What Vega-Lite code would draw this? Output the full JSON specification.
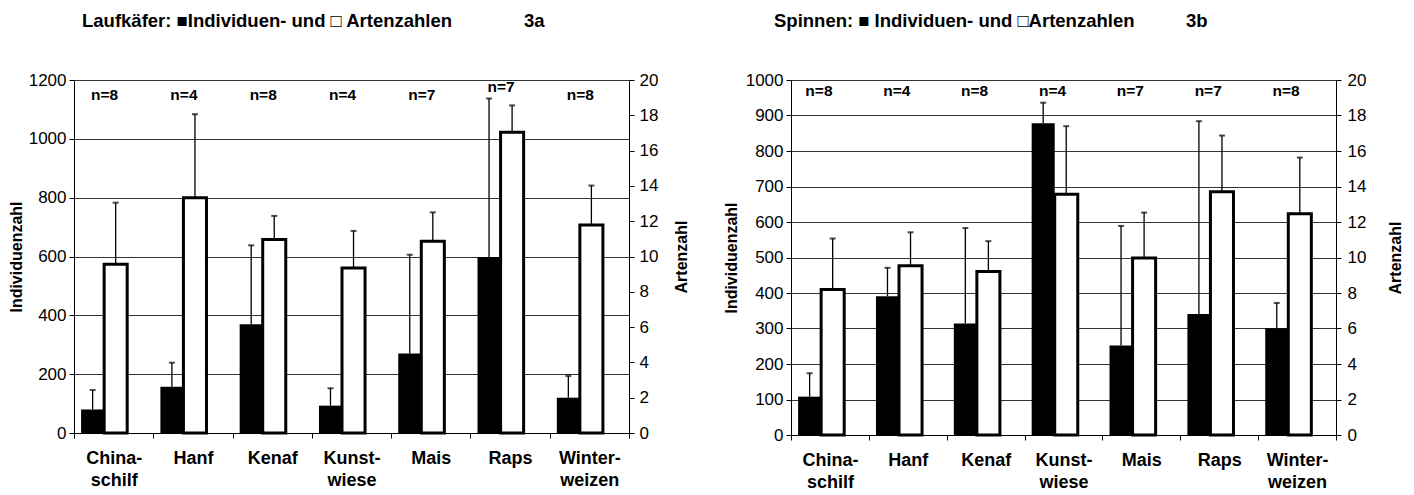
{
  "$schema": "https://vega.github.io/schema/vega-lite/v6.json",
  "background": "white",
  "padding": {"left": 8, "right": 4, "top": 11, "bottom": 5},
  "config": {
    "font": "Liberation Sans",
    "view": {"stroke": null},
    "axis": {"labelColor": "black", "titleColor": "black", "domainColor": "black", "tickColor": "black", "labelFontSize": 17, "titleFontSize": 16, "titleFontWeight": "bold", "tickSize": 5}
  },
  "data": {"values": [
    {"panel": "3a", "kat": "China- schilf", "ind": 80, "indHi": 146, "art": 9.56, "artHi": 13.05, "n": "n=8"},
    {"panel": "3a", "kat": "Hanf", "ind": 157, "indHi": 239, "art": 13.33, "artHi": 18.06, "n": "n=4"},
    {"panel": "3a", "kat": "Kenaf", "ind": 370, "indHi": 638, "art": 10.97, "artHi": 12.3, "n": "n=8"},
    {"panel": "3a", "kat": "Kunst- wiese", "ind": 93, "indHi": 152, "art": 9.35, "artHi": 11.45, "n": "n=4"},
    {"panel": "3a", "kat": "Mais", "ind": 270, "indHi": 606, "art": 10.87, "artHi": 12.5, "n": "n=7"},
    {"panel": "3a", "kat": "Raps", "ind": 598, "indHi": 1137, "art": 17.04, "artHi": 18.56, "n": "n=7"},
    {"panel": "3a", "kat": "Winter- weizen", "ind": 120, "indHi": 194, "art": 11.78, "artHi": 14.02, "n": "n=8"},
    {"panel": "3b", "kat": "China- schilf", "ind": 108, "indHi": 174, "art": 8.2, "artHi": 11.07, "n": "n=8"},
    {"panel": "3b", "kat": "Hanf", "ind": 391, "indHi": 471, "art": 9.53, "artHi": 11.42, "n": "n=4"},
    {"panel": "3b", "kat": "Kenaf", "ind": 314, "indHi": 583, "art": 9.21, "artHi": 10.92, "n": "n=8"},
    {"panel": "3b", "kat": "Kunst- wiese", "ind": 878, "indHi": 936, "art": 13.56, "artHi": 17.4, "n": "n=4"},
    {"panel": "3b", "kat": "Mais", "ind": 252, "indHi": 589, "art": 9.97, "artHi": 12.53, "n": "n=7"},
    {"panel": "3b", "kat": "Raps", "ind": 341, "indHi": 884, "art": 13.7, "artHi": 16.87, "n": "n=7"},
    {"panel": "3b", "kat": "Winter- weizen", "ind": 301, "indHi": 372, "art": 12.47, "artHi": 15.63, "n": "n=8"}
  ]},
  "spacing": 33,
  "hconcat": [
    {
      "width": 555, "height": 353,
      "transform": [{"filter": "datum.panel == '3a'"}],
      "title": {"text": "Laufkäfer: ■Individuen- und □ Artenzahlen\u00a0\u00a0\u00a0\u00a0\u00a0\u00a0\u00a0\u00a0\u00a0\u00a0\u00a0\u00a0\u00a0\u00a03a", "frame": "group", "anchor": "start", "dx": 8, "fontSize": 18.5, "fontWeight": "bold", "color": "black", "offset": 41},
      "encoding": {
        "x": {"field": "kat", "type": "nominal", "sort": null, "scale": {"paddingInner": 0, "paddingOuter": 0},
          "axis": {"title": null, "labelAngle": 0, "tickBand": "extent", "labelFontWeight": "bold", "labelFontSize": 18, "labelPadding": 11, "labelLineHeight": 22, "labelBaseline": "top", "labelExpr": "split(datum.label, ' ')"}}
      },
      "layer": [
        {
          "encoding": {"y": {"field": "ind", "type": "quantitative", "scale": {"domain": [0, 1200]}, "axis": {"orient": "left", "title": "Individuenzahl", "format": "d", "values": [0, 200, 400, 600, 800, 1000, 1200], "grid": true, "gridColor": "#333", "gridWidth": 1, "labelPadding": 3, "titlePadding": 4}}},
          "layer": [
            {"mark": {"type": "bar", "color": "black"}, "encoding": {"xOffset": {"datum": "I", "scale": {"domain": ["I", "A", "X"], "paddingInner": 0, "paddingOuter": 0.22, "align": 0.7}}}},
            {"mark": {"type": "rule", "color": "black", "strokeWidth": 1.3}, "encoding": {"xOffset": {"datum": "I"}, "y2": {"field": "indHi"}}},
            {"mark": {"type": "tick", "color": "black", "orient": "horizontal", "size": 6, "thickness": 2}, "encoding": {"xOffset": {"datum": "I"}, "y": {"field": "indHi", "type": "quantitative"}}},
            {"transform": [{"filter": "datum.kat != 'Raps'"}], "mark": {"type": "text", "fontWeight": "bold", "fontSize": 15.5, "dx": -9, "color": "black"}, "encoding": {"y": {"datum": 1149}, "text": {"field": "n"}}},
            {"transform": [{"filter": "datum.kat == 'Raps'"}], "mark": {"type": "text", "fontWeight": "bold", "fontSize": 15.5, "dx": -9, "color": "black"}, "encoding": {"y": {"datum": 1177}, "text": {"field": "n"}}}
          ]
        },
        {
          "encoding": {"y": {"field": "art", "type": "quantitative", "scale": {"domain": [0, 20]}, "axis": {"orient": "right", "title": "Artenzahl", "titleAngle": 270, "values": [0, 2, 4, 6, 8, 10, 12, 14, 16, 18, 20], "grid": false, "labelPadding": 5, "titlePadding": 32}}},
          "layer": [
            {"mark": {"type": "bar", "fill": "white", "stroke": "black", "strokeWidth": 3}, "encoding": {"xOffset": {"datum": "A"}}},
            {"mark": {"type": "rule", "color": "black", "strokeWidth": 1.3}, "encoding": {"xOffset": {"datum": "A"}, "y2": {"field": "artHi"}}},
            {"mark": {"type": "tick", "color": "black", "orient": "horizontal", "size": 6, "thickness": 2}, "encoding": {"xOffset": {"datum": "A"}, "y": {"field": "artHi", "type": "quantitative"}}}
          ]
        }
      ],
      "resolve": {"scale": {"y": "independent"}}
    },
    {
      "width": 545, "height": 355,
      "transform": [{"filter": "datum.panel == '3b'"}],
      "title": {"text": "Spinnen: ■ Individuen- und □Artenzahlen\u00a0\u00a0\u00a0\u00a0\u00a0\u00a0\u00a0\u00a0\u00a0\u00a03b", "frame": "group", "anchor": "start", "dx": -17, "fontSize": 18.5, "fontWeight": "bold", "color": "black", "offset": 41},
      "encoding": {
        "x": {"field": "kat", "type": "nominal", "sort": null, "scale": {"paddingInner": 0, "paddingOuter": 0},
          "axis": {"title": null, "labelAngle": 0, "tickBand": "extent", "labelFontWeight": "bold", "labelFontSize": 18, "labelPadding": 11, "labelLineHeight": 22, "labelBaseline": "top", "labelExpr": "split(datum.label, ' ')"}}
      },
      "layer": [
        {
          "encoding": {"y": {"field": "ind", "type": "quantitative", "scale": {"domain": [0, 1000]}, "axis": {"orient": "left", "title": "Individuenzahl", "format": "d", "values": [0, 100, 200, 300, 400, 500, 600, 700, 800, 900, 1000], "grid": true, "gridColor": "#333", "gridWidth": 1, "labelPadding": 3, "titlePadding": 6}}},
          "layer": [
            {"mark": {"type": "bar", "color": "black"}, "encoding": {"xOffset": {"datum": "I", "scale": {"domain": ["I", "A", "X"], "paddingInner": 0, "paddingOuter": 0.22, "align": 0.6}}}},
            {"mark": {"type": "rule", "color": "black", "strokeWidth": 1.3}, "encoding": {"xOffset": {"datum": "I"}, "y2": {"field": "indHi"}}},
            {"mark": {"type": "tick", "color": "black", "orient": "horizontal", "size": 6, "thickness": 2}, "encoding": {"xOffset": {"datum": "I"}, "y": {"field": "indHi", "type": "quantitative"}}},
            {"mark": {"type": "text", "fontWeight": "bold", "fontSize": 15.5, "dx": -11, "color": "black"}, "encoding": {"y": {"datum": 968}, "text": {"field": "n"}}}
          ]
        },
        {
          "encoding": {"y": {"field": "art", "type": "quantitative", "scale": {"domain": [0, 20]}, "axis": {"orient": "right", "title": "Artenzahl", "titleAngle": 270, "values": [0, 2, 4, 6, 8, 10, 12, 14, 16, 18, 20], "grid": false, "labelPadding": 6, "titlePadding": 38}}},
          "layer": [
            {"mark": {"type": "bar", "fill": "white", "stroke": "black", "strokeWidth": 3}, "encoding": {"xOffset": {"datum": "A"}}},
            {"mark": {"type": "rule", "color": "black", "strokeWidth": 1.3}, "encoding": {"xOffset": {"datum": "A"}, "y2": {"field": "artHi"}}},
            {"mark": {"type": "tick", "color": "black", "orient": "horizontal", "size": 6, "thickness": 2}, "encoding": {"xOffset": {"datum": "A"}, "y": {"field": "artHi", "type": "quantitative"}}}
          ]
        }
      ],
      "resolve": {"scale": {"y": "independent"}}
    }
  ]
}
